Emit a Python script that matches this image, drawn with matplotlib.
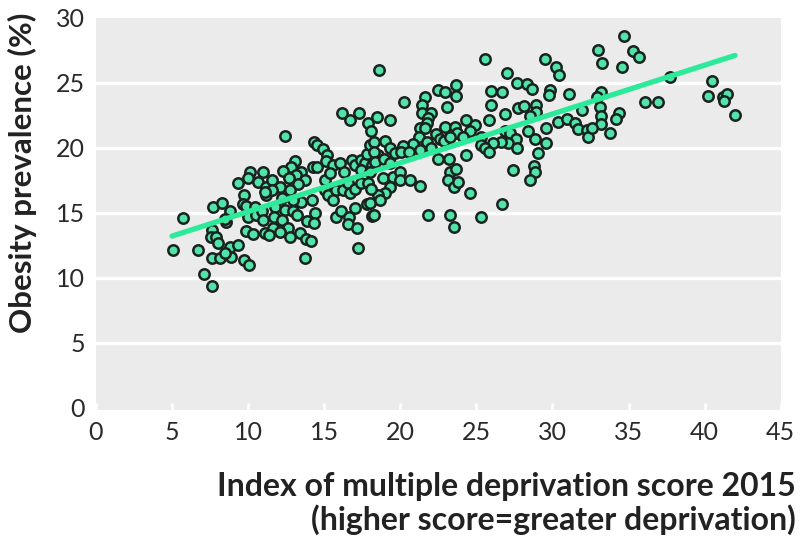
import matplotlib
matplotlib.use("Agg")
import matplotlib.pyplot as plt
from matplotlib import font_manager

# ---------------- data ----------------
pts_a = [(5.7,14.6),(5.05,12.1),(6.7,12.1),(7.1,10.3),(7.65,9.4),(7.65,11.5),(8.15,11.5),(8.85,11.6),
         (9.75,11.4),(10.05,11.0),(7.65,13.7),(7.55,13.1),(7.9,13.15),(8.05,12.65),(7.7,15.45),(8.3,15.75),
         (8.8,15.15),(8.55,14.3),(8.5,14.5),(8.8,12.35),(9.35,12.5),(8.5,11.9),(9.35,17.25),(9.7,16.4),
         (9.65,15.7),(10.15,18.15),(10.0,17.65),(10.95,18.15),(10.65,17.4),(11.2,17.0),(9.85,15.5),
         (10.45,15.45),(10.0,14.65),(10.55,14.8),(10.9,15.15),(9.85,13.6),(10.3,13.35),(11.1,13.45),
         (11.2,16.35),(11.0,14.45)]
pts_b = [(12.45,20.9),(16.2,22.65),(17.3,22.65),(16.7,22.1),(17.85,21.9),(18.05,21.25),(14.35,20.45),
         (14.55,20.2),(14.95,19.9),(15.2,19.45),(15.15,19.0),(15.6,18.65),(16.05,18.85),(14.25,18.5),
         (14.55,18.5),(13.1,19.0),(12.85,18.5),(12.3,18.2),(13.5,18.15),(13.15,17.9),(13.75,17.5),
         (12.7,17.65),(11.55,17.5),(12.1,16.95),(11.55,16.75),(13.3,17.2),(12.75,16.75),(11.1,16.6),
         (12.2,16.1),(13.5,15.85),(14.2,16.0),(12.95,16.0),(11.75,15.45),(12.4,15.2),(12.95,15.1),
         (13.2,14.8),(14.4,15.0),(11.7,14.7),(12.25,14.45),(11.65,13.85),(12.6,13.8),(12.1,13.55),
         (12.75,13.15),(13.4,13.45),(13.9,14.35),(14.3,14.2),(13.8,12.95),(14.15,12.8),(13.75,11.5),
         (17.25,12.25),(15.05,17.5),(15.4,18.05),(15.05,16.75),(15.25,16.35),(15.75,16.75),(15.6,16.0),
         (16.25,16.75),(16.55,17.25),(16.7,16.5),(17.0,16.85),(17.45,17.25),(17.9,17.3),(16.85,19.05),
         (17.05,18.65),(17.4,19.05),(17.7,18.8),(18.15,18.65),(17.4,18.3),(17.8,19.55),(18.0,20.2),
         (15.8,14.7),(16.1,15.1),(16.6,14.7),(17.0,15.4),(16.55,14.15),(17.15,13.8),(16.3,18.15),
         (17.8,15.7),(18.15,14.75),(11.35,13.3)]
pts_c = [(20.25,23.55),(22.5,24.4),(22.95,24.25),(23.65,24.8),(23.65,24.0),(21.6,23.9),(21.4,23.3),
         (21.4,22.65),(22.05,22.7),(21.85,22.25),(21.75,21.9),(23.05,23.15),(18.5,22.35),(19.35,22.1),
         (21.3,21.5),(21.6,21.5),(22.35,21.05),(22.95,21.6),(23.6,21.6),(24.35,22.15),(24.9,21.75),
         (23.7,21.1),(24.6,21.25),(24.15,20.85),(22.6,20.7),(22.85,20.55),(23.25,20.8),(21.25,20.85),
         (21.75,20.45),(20.85,20.3),(18.25,20.45),(19.0,20.55),(18.55,19.45),(18.25,19.7),(19.3,19.95),
         (19.65,19.6),(20.2,20.1),(20.05,19.7),(20.55,19.7),(21.3,19.8),(22.05,19.95),(22.5,19.1),
         (23.2,19.1),(24.35,19.45),(18.35,18.9),(18.9,19.1),(19.3,18.8),(18.0,18.1),(18.85,17.7),
         (19.5,17.75),(19.95,18.15),(20.0,17.5),(19.3,17.0),(19.0,16.5),(18.55,16.35),(18.1,16.85),
         (20.65,17.5),(21.3,17.05),(23.25,18.15),(23.65,18.4),(23.15,17.55),(23.5,17.0),(23.8,17.4),
         (24.55,16.55),(18.25,14.8),(21.85,14.85),(23.25,14.8),(23.5,13.9),(18.0,15.75),(18.65,16.0)]
pts_d = [(27.0,25.75),(29.5,26.85),(30.25,26.2),(30.45,25.6),(25.95,24.35),(26.7,24.25),(27.65,24.95),
         (28.3,24.9),(28.65,24.5),(29.85,24.45),(29.75,24.05),(31.1,24.15),(25.95,23.3),(26.9,22.6),
         (27.75,23.05),(28.15,23.2),(28.9,23.3),(28.95,22.75),(28.5,22.45),(25.8,22.15),(30.35,22.0),
         (30.95,22.2),(31.5,21.9),(31.7,21.4),(31.95,22.9),(29.6,21.55),(28.4,21.25),(26.9,21.25),
         (27.2,21.1),(28.85,20.7),(27.6,20.7),(27.1,20.35),(26.6,20.4),(26.1,20.35),(25.3,20.8),
         (25.3,20.2),(25.55,19.95),(25.8,19.7),(27.7,19.95),(29.6,20.35),(29.05,19.6),(27.4,18.25),
         (28.8,18.6),(28.85,18.1),(28.5,17.5),(26.7,15.7),(25.55,26.85),(25.3,14.7),(32.25,21.35),
         (32.35,20.8),(18.6,26.0)]
pts_e = [(34.7,28.6),(33.0,27.55),(33.25,26.55),(35.3,27.45),(35.7,27.0),(34.6,26.2),(37.75,25.4),
         (40.5,25.15),(40.25,24.0),(41.2,23.9),(41.45,24.15),(41.25,23.6),(42.0,22.55),(36.1,23.5),
         (36.95,23.5),(33.2,24.25),(32.9,23.9),(33.1,23.1),(34.35,22.7),(34.2,22.2),(33.2,22.4),
         (33.2,21.8),(32.6,21.55),(33.75,21.15)]

imd_score = [p[0] for grp in (pts_a, pts_b, pts_c, pts_d, pts_e) for p in grp]
obesity = [p[1] for grp in (pts_a, pts_b, pts_c, pts_d, pts_e) for p in grp]

trend_x = [5.0, 42.0]
trend_y = [13.2, 27.1]

x_ticks = [0, 5, 10, 15, 20, 25, 30, 35, 40, 45]
y_ticks = [0, 5, 10, 15, 20, 25, 30]
grid_levels = [5, 10, 15, 20, 25]

# ---------------- fonts ----------------
names = {f.name for f in font_manager.fontManager.ttflist}
main = 'Lato' if 'Lato' in names else 'DejaVu Sans'
fam = [main, 'DejaVu Sans']

# ---------------- figure ----------------
fig = plt.figure(figsize=(8.02, 5.46), dpi=100)
ax = fig.add_axes([0.1196, 0.2485, 0.8539, 0.7191])
ax.set_facecolor('#ebebeb')
for s in ax.spines.values():
    s.set_visible(False)

ax.set_xlim(0, 45)
ax.set_ylim(-0.2, 30)
ax.set_xticks(x_ticks)
ax.set_yticks(y_ticks)
for g in grid_levels:
    ax.axhline(g, color='white', linewidth=2.4, zorder=1)

ax.scatter(imd_score, obesity, s=56, facecolor='#52e3ab', edgecolor='#18231f',
           linewidth=1.8, zorder=3)
ax.plot(trend_x, trend_y, color='#2de99a', linewidth=3.8, solid_capstyle='round', zorder=4)

ax.tick_params(axis='x', direction='in', length=5, width=2, color='white', pad=8,
               labelsize=18, labelcolor='#2a2a2a')
ax.tick_params(axis='y', length=0, pad=8, labelsize=18, labelcolor='#2a2a2a')
for lab in ax.get_xticklabels() + ax.get_yticklabels():
    lab.set_family(fam)
    lab.set_fontweight('normal')

fig.text(0.028, 0.683, 'Obesity prevalence (%)', rotation=90, ha='center', va='center',
         fontsize=22.5, fontweight='bold', family=fam, color='#222222')
fig.text(0.992, 0.02, 'Index of multiple deprivation score 2015\n(higher score=greater deprivation)',
         ha='right', va='bottom', fontsize=23, fontweight='bold', family=fam,
         color='#222222', linespacing=1.12)

fig.savefig('out.png', dpi=100)
